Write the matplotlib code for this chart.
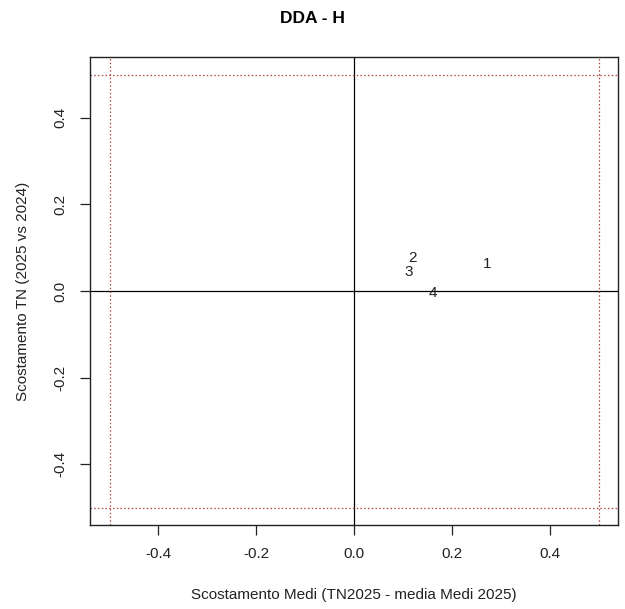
import matplotlib
matplotlib.use("Agg")
import matplotlib.pyplot as plt

plt.rcParams['font.family'] = ['Liberation Sans', 'DejaVu Sans']

labels = ["1", "2", "3", "4"]
x_vals = [0.272, 0.120, 0.112, 0.162]
y_vals = [0.062, 0.076, 0.044, -0.005]
ticks = [-0.4, -0.2, 0.0, 0.2, 0.4]
tick_labels = ["-0.4", "-0.2", "0.0", "0.2", "0.4"]
threshold = 0.5

fig = plt.figure(figsize=(6.25, 6.09), dpi=100)
ax = fig.add_axes([0.144, 0.138, 0.845, 0.768])
ax.set_xlim(-0.54, 0.54)
ax.set_ylim(-0.54, 0.54)

for lab, x, y in zip(labels, x_vals, y_vals):
    ax.text(x, y, lab, ha='center', va='center', fontsize=11, color='#222222')

ax.axhline(0, color='black', lw=0.9)
ax.axvline(0, color='black', lw=0.9)
red = '#b04444'
for v in (-threshold, threshold):
    ax.axhline(v, color=red, lw=0.9, ls=(0, (1.2, 1.8)))
    ax.axvline(v, color=red, lw=0.9, ls=(0, (1.2, 1.8)))

ax.set_xticks(ticks)
ax.set_xticklabels(tick_labels)
ax.set_yticks(ticks)
ax.set_yticklabels(tick_labels, rotation=90, va='center')
ax.tick_params(direction='out', length=7, width=0.9, labelsize=11, pad=9, colors='#222222')
for s in ax.spines.values():
    s.set_linewidth(1.0)
    s.set_color('#222222')

ax.set_xlabel("Scostamento Medi (TN2025 - media Medi 2025)", fontsize=11, labelpad=19, color='#222222')
ax.set_ylabel("Scostamento TN (2025 vs 2024)", fontsize=11, labelpad=17, color='#222222')
fig.suptitle("DDA - H", fontsize=12.5, fontweight='bold', y=0.982)

fig.savefig("out.png", dpi=100)
